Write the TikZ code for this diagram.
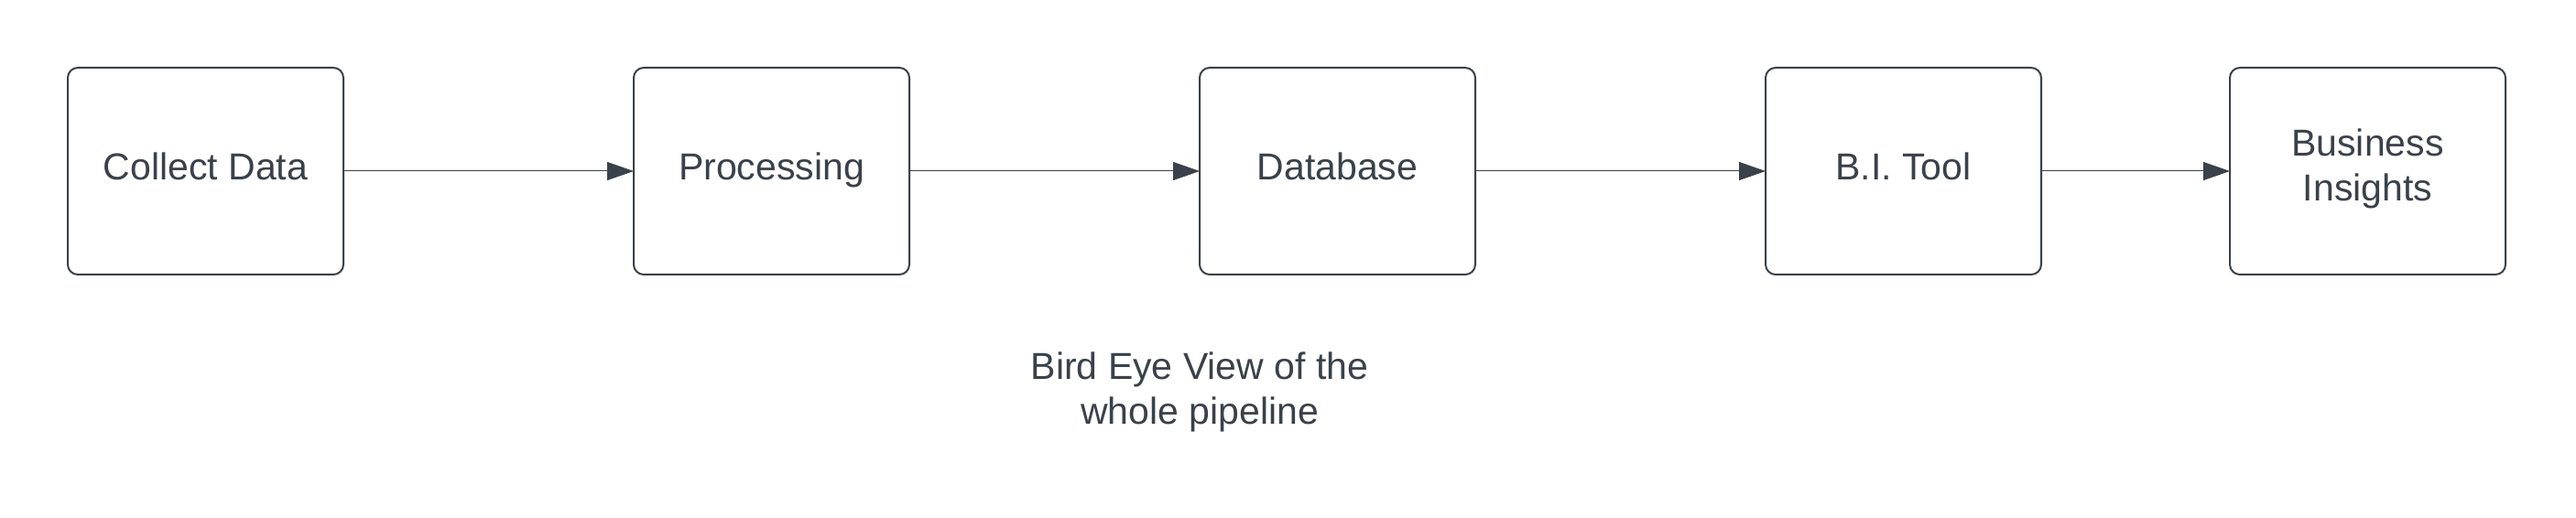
\documentclass[tikz,border=0pt]{standalone}
\usepackage{fontspec}
\setmainfont{Liberation Sans}
\usetikzlibrary{positioning, arrows.meta}
\definecolor{slate}{RGB}{58,65,74}
\tikzset{
	stepBox/.style={
		draw=slate
		,line width=1pt
		,rounded corners=5.5pt
		,minimum width=150.5pt
		,minimum height=113pt
		,outer sep=0pt
		,align=center
		,text=slate
		,font=\fontsize{20.5pt}{24.5pt}\selectfont
		,execute at begin node=\strut
		,execute at end node=\strut
	},
	flowArr/.style={
		draw=slate
		,line width=0.5pt
		,-{Triangle[length=14.5pt,width=10pt]}
	},
	capText/.style={
		align=center
		,inner sep=0pt
		,text=slate
		,font=\fontsize{20.5pt}{24.5pt}\selectfont
	},
}
\begin{document}
\begin{tikzpicture}[node distance=158.5pt]
\useasboundingbox (0,0) rectangle (1406.5pt,-283pt);
\node[stepBox] (collect) at (112.25pt,-93.5pt) {Collect Data};
\node[stepBox, right=of collect] (process) {Processing};
\node[stepBox, right=of process] (database) {Database};
\node[stepBox, right=of database] (biTool) {B.I. Tool};
\node[stepBox, right=103pt of biTool] (insights) {Business\\Insights};
% connectors
\draw[flowArr] (collect.east) -- (process.west);
\draw[flowArr] (process.east) -- (database.west);
\draw[flowArr] (database.east) -- (biTool.west);
\draw[flowArr] (biTool.east) -- (insights.west);
% caption
\node[capText, anchor=north] (caption) at ([yshift=-42pt]database.south west)
	{Bird Eye View of the\\whole pipeline};
\end{tikzpicture}
\end{document}
